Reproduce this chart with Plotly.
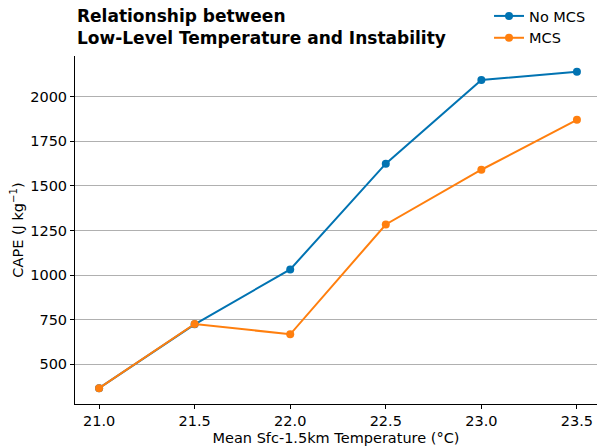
import plotly.graph_objects as go

temps = [21.0, 21.5, 22.0, 22.5, 23.0, 23.5]
cape_no_mcs = [366, 724, 1032, 1625, 2095, 2140]
cape_mcs = [366, 726, 668, 1284, 1591, 1871]
yticks = [500, 750, 1000, 1250, 1500, 1750, 2000]
xticks = [21.0, 21.5, 22.0, 22.5, 23.0, 23.5]

blue = "#0173b2"
orange = "#ff7f0e"
font = "DejaVu Sans"

fig = go.Figure()
fig.add_trace(go.Scatter(x=temps, y=cape_no_mcs, mode="lines+markers", name="No MCS",
                         line=dict(color=blue, width=2), marker=dict(size=8, color=blue)))
fig.add_trace(go.Scatter(x=temps, y=cape_mcs, mode="lines+markers", name="MCS",
                         line=dict(color=orange, width=2), marker=dict(size=8, color=orange)))

fig.update_layout(
    width=597, height=447,
    margin=dict(l=75, r=0, t=56, b=43, autoexpand=False),
    paper_bgcolor="white", plot_bgcolor="white",
    font=dict(family=font, size=14.5, color="black"),
    showlegend=True,
    legend=dict(xref="container", yref="container", x=0.99, xanchor="right", y=1.0, yanchor="top",
                font=dict(size=14.5), bgcolor="rgba(0,0,0,0)", tracegroupgap=0,
                itemwidth=30),
    annotations=[dict(text="<b>Relationship between<br>Low-Level Temperature and Instability</b>",
                      xref="paper", yref="paper", x=0, y=1.018, xanchor="left", yanchor="bottom",
                      align="left", showarrow=False, font=dict(size=17, family=font, color="black"))],
)
fig.update_xaxes(range=[20.874, 23.605], tickvals=xticks, ticktext=[f"{v:.1f}" for v in xticks],
                 showgrid=False, showline=True, linecolor="black", linewidth=1,
                 ticks="outside", ticklen=4, tickcolor="black", zeroline=False,
                 tickfont=dict(size=14.5),
                 title=dict(text="Mean Sfc-1.5km Temperature (°C)", standoff=4, font=dict(size=14.5)))
fig.update_yaxes(range=[277, 2229], tickvals=yticks, showgrid=True, gridcolor="#b0b0b0", gridwidth=1,
                 showline=True, linecolor="black", linewidth=1,
                 ticks="outside", ticklen=4, tickcolor="black", zeroline=False,
                 tickfont=dict(size=14.5),
                 title=dict(text="CAPE (J kg<sup>−1</sup>)", standoff=3, font=dict(size=14.5)))

fig.write_html("out.html")
